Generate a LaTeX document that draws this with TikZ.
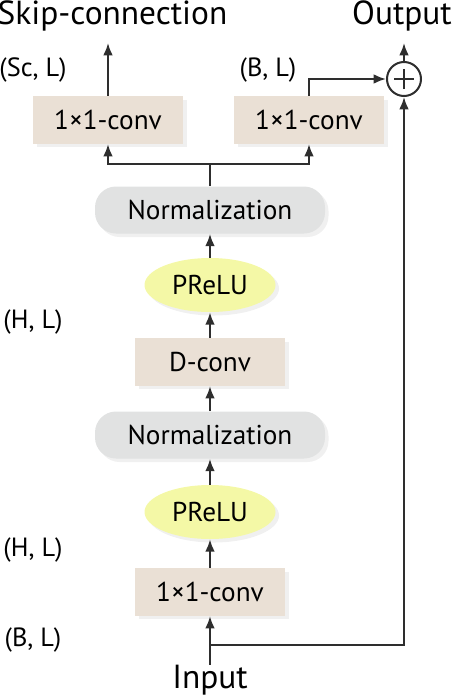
\documentclass[tikz,border=0pt]{standalone}
\usepackage{fontspec}
\setmainfont{PT Sans}
\usetikzlibrary{arrows.meta,shapes.geometric,shadows}
\definecolor{convfill}{HTML}{EAE0D5}
\definecolor{normfill}{HTML}{E1E2E2}
\definecolor{actfill}{HTML}{F4F8A6}
\definecolor{linecol}{HTML}{2E2E2E}
\begin{document}
\begin{tikzpicture}[
  convbox/.style={rectangle, fill=convfill, minimum width=3cm, minimum height=0.95cm, font=\fontsize{15.5}{18}\selectfont,
    drop shadow={opacity=0.12, shadow xshift=2pt, shadow yshift=-2pt}},
  normbox/.style={rectangle, rounded corners=0.42cm, fill=normfill, minimum width=4.6cm, minimum height=0.94cm, font=\fontsize{15.5}{18}\selectfont,
    drop shadow={opacity=0.12, shadow xshift=2pt, shadow yshift=-2pt}},
  actbox/.style={ellipse, fill=actfill, minimum width=2.62cm, minimum height=1.08cm, inner sep=0pt, font=\fontsize{15.5}{18}\selectfont,
    drop shadow={opacity=0.12, shadow xshift=2pt, shadow yshift=-2pt}},
  dimlabel/.style={font=\fontsize{15}{17}\selectfont, inner sep=0pt},
  title/.style={font=\fontsize{19}{22}\selectfont, inner sep=0pt},
  flow/.style={-{Latex[length=7pt,width=5.5pt]}, line width=1.15pt, draw=linecol},
  plain/.style={line width=1.15pt, draw=linecol}
]
  \useasboundingbox (0,0) rectangle (9.08,-14);

  % titles and sizes
  \node (skip) [title] at (2.25, -0.32) {Skip-connection};
  \node (out) [title] at (8.04, -0.32) {Output};
  \node (input) [title] at (4.2, -13.6) {Input};
  \node (sclab) [dimlabel] at (0.66, -1.4) {(Sc, L)};
  \node (bllab) [dimlabel] at (5.36, -1.4) {(B, L)};
  \node (hlab1) [dimlabel] at (0.66, -6.44) {(H, L)};
  \node (hlab2) [dimlabel] at (0.66, -11.0) {(H, L)};
  \node (bllab2) [dimlabel] at (0.66, -12.8) {(B, L)};

  % blocks
  \node (convskip) [convbox] at (2.16, -2.4) {1×1-conv};
  \node (convres) [convbox] at (6.18, -2.4) {1×1-conv};
  \node (sum) [circle, draw=linecol, line width=1.15pt, minimum size=0.68cm, inner sep=0pt] at (8.08, -1.58) {};
  \node (normtop) [normbox] at (4.2, -4.2) {Normalization};
  \node (acttop) [actbox] at (4.2, -5.7) {PReLU};
  \node (dconv) [convbox] at (4.2, -7.24) {D-conv};
  \node (normbot) [normbox] at (4.2, -8.7) {Normalization};
  \node (actbot) [actbox] at (4.2, -10.24) {PReLU};
  \node (convin) [convbox] at (4.2, -11.84) {1×1-conv};

  \coordinate (split) at (4.2, -3.28);
  \coordinate (skipend) at (2.24, -0.86);
  \coordinate (outend) at (8.08, -0.86);
  \coordinate (branch) at (4.2, -12.9);

  % plus sign
  \draw[plain] (sum.center) ++(-0.2,0) -- ++(0.4,0);
  \draw[plain] (sum.center) ++(0,-0.2) -- ++(0,0.4);

  % connectors
  \draw[flow] (input.north) to (convin.south);
  \draw[flow] (branch) -| (sum.south);
  \draw[flow] (convin) to (actbot);
  \draw[flow] (actbot) to (normbot);
  \draw[flow] (normbot) to (dconv);
  \draw[flow] (dconv) to (acttop);
  \draw[flow] (acttop) to (normtop);
  \draw[plain] (normtop.north) to (split);
  \draw[flow] (split) -| (convskip.south);
  \draw[flow] (split) -| (convres.south);
  \draw[flow] (convskip.north) to (convskip.north |- skipend);
  \draw[flow] (convres.north) |- (sum.west);
  \draw[flow] (sum.north) to (outend);
\end{tikzpicture}
\end{document}
